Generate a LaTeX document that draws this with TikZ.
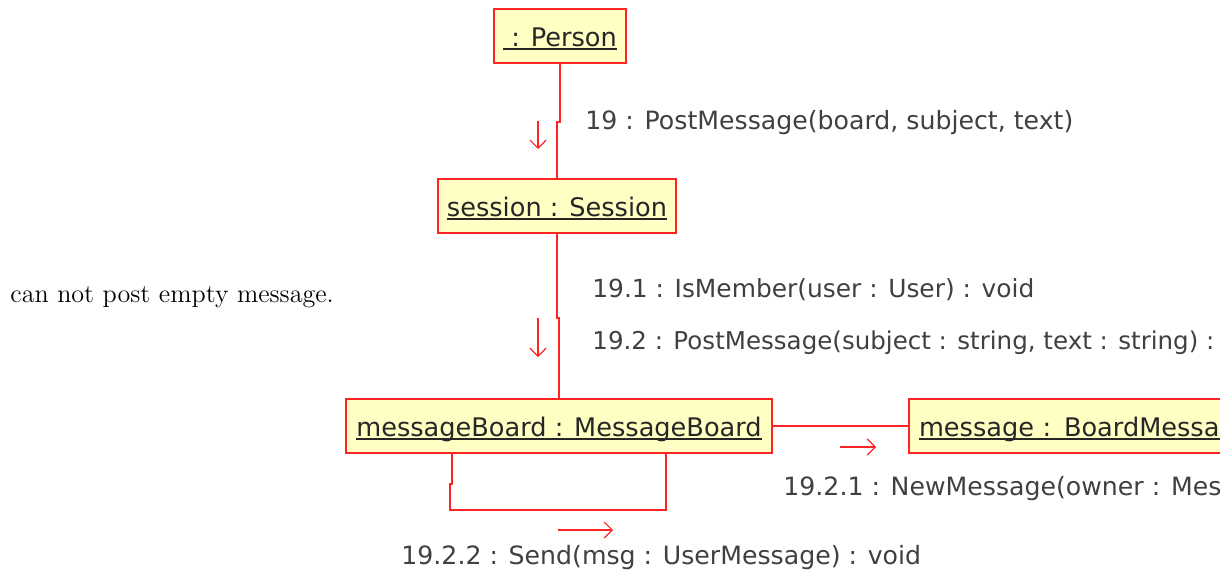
\documentclass[tikz,border=0pt]{standalone}
\usepackage{fontspec}
\newfontfamily\umlfont{DejaVu Sans}
\usetikzlibrary{arrows.meta}
\definecolor{umlred}{RGB}{255,35,35}
\definecolor{umlfill}{RGB}{255,255,196}
\definecolor{labgray}{RGB}{64,64,64}
\newcommand\objul[1]{\setbox0\hbox{#1}\rlap{\rule[-2pt]{\wd0}{0.8pt}}\box0}
\begin{document}
\begin{tikzpicture}[x=0.5pt,y=-0.5pt,
  obj/.style={draw=umlred, fill=umlfill, line width=1pt, minimum height=27pt, inner sep=0pt,
    text height=12pt, text depth=2pt,
    font=\umlfont\fontsize{12.8}{15}\selectfont, text=black!85},
  link/.style={draw=umlred, line width=1pt},
  msgarrow/.style={draw=umlred, line width=0.6pt, -{Straight Barb[length=4pt,width=8pt]}},
  lab/.style={anchor=base west, inner sep=0pt, font=\umlfont\fontsize{12.6}{15}\selectfont, text=labgray}]
\useasboundingbox (0,0) rectangle (1220,574);
\clip (0,0) rectangle (1220,574);
% objects
\node[obj, minimum width=66pt] (person) at (560,36) {\objul{~: Person}};
\node[obj, minimum width=119pt] (session) at (557,206) {\objul{session : Session}};
\node[obj, minimum width=213pt] (board) at (559,426) {\objul{messageBoard : MessageBoard}};
\node[obj, anchor=west, text width=160pt, align=left, inner xsep=5pt] (message) at (908,426) {\objul{message : BoardMessage}};
% links
\draw[link] (person.south) -- ++(0,58) -| (session.north);
\draw[link] (session.south) -- ++(0,84) -| (board.north);
\draw[link] (board.east) -- (message.west);
\draw[link] ([xshift=-53.5pt]board.south) -- ++(0,30) -- ++(-2,0) -- ++(0,26) -| ([xshift=53.5pt]board.south);
% message arrows
\coordinate (a1s) at (538,121); \coordinate (a1e) at (538,149);
\coordinate (a2s) at (538,318); \coordinate (a2e) at (538,357);
\coordinate (a3s) at (840,447); \coordinate (a3e) at (876,447);
\coordinate (a4s) at (558,530); \coordinate (a4e) at (613,530);
\draw[msgarrow] (a1s) -- (a1e);
\draw[msgarrow] (a2s) -- (a2e);
\draw[msgarrow] (a3s) -- (a3e);
\draw[msgarrow] (a4s) -- (a4e);
% labels
\node[lab] (m19) at (585,129) {19 : PostMessage(board, subject, text)};
\node[lab, font=\umlfont\fontsize{12.45}{15}\selectfont] (m191) at (592,297) {19.1 : IsMember(user : User) : void};
\node[lab, font=\umlfont\fontsize{12.27}{15}\selectfont] (m192) at (592,349) {19.2 : PostMessage(subject : string, text : string) :};
\node[lab] (m1921) at (783,495) {19.2.1 : NewMessage(owner : Mes};
\node[lab] (m1922) at (401,564) {19.2.2 : Send(msg : UserMessage) : void};
\node[anchor=base west, inner sep=0pt, font=\fontsize{13.05}{15}\selectfont] (note) at (10,302) {can not post empty message.};
\end{tikzpicture}
\end{document}
